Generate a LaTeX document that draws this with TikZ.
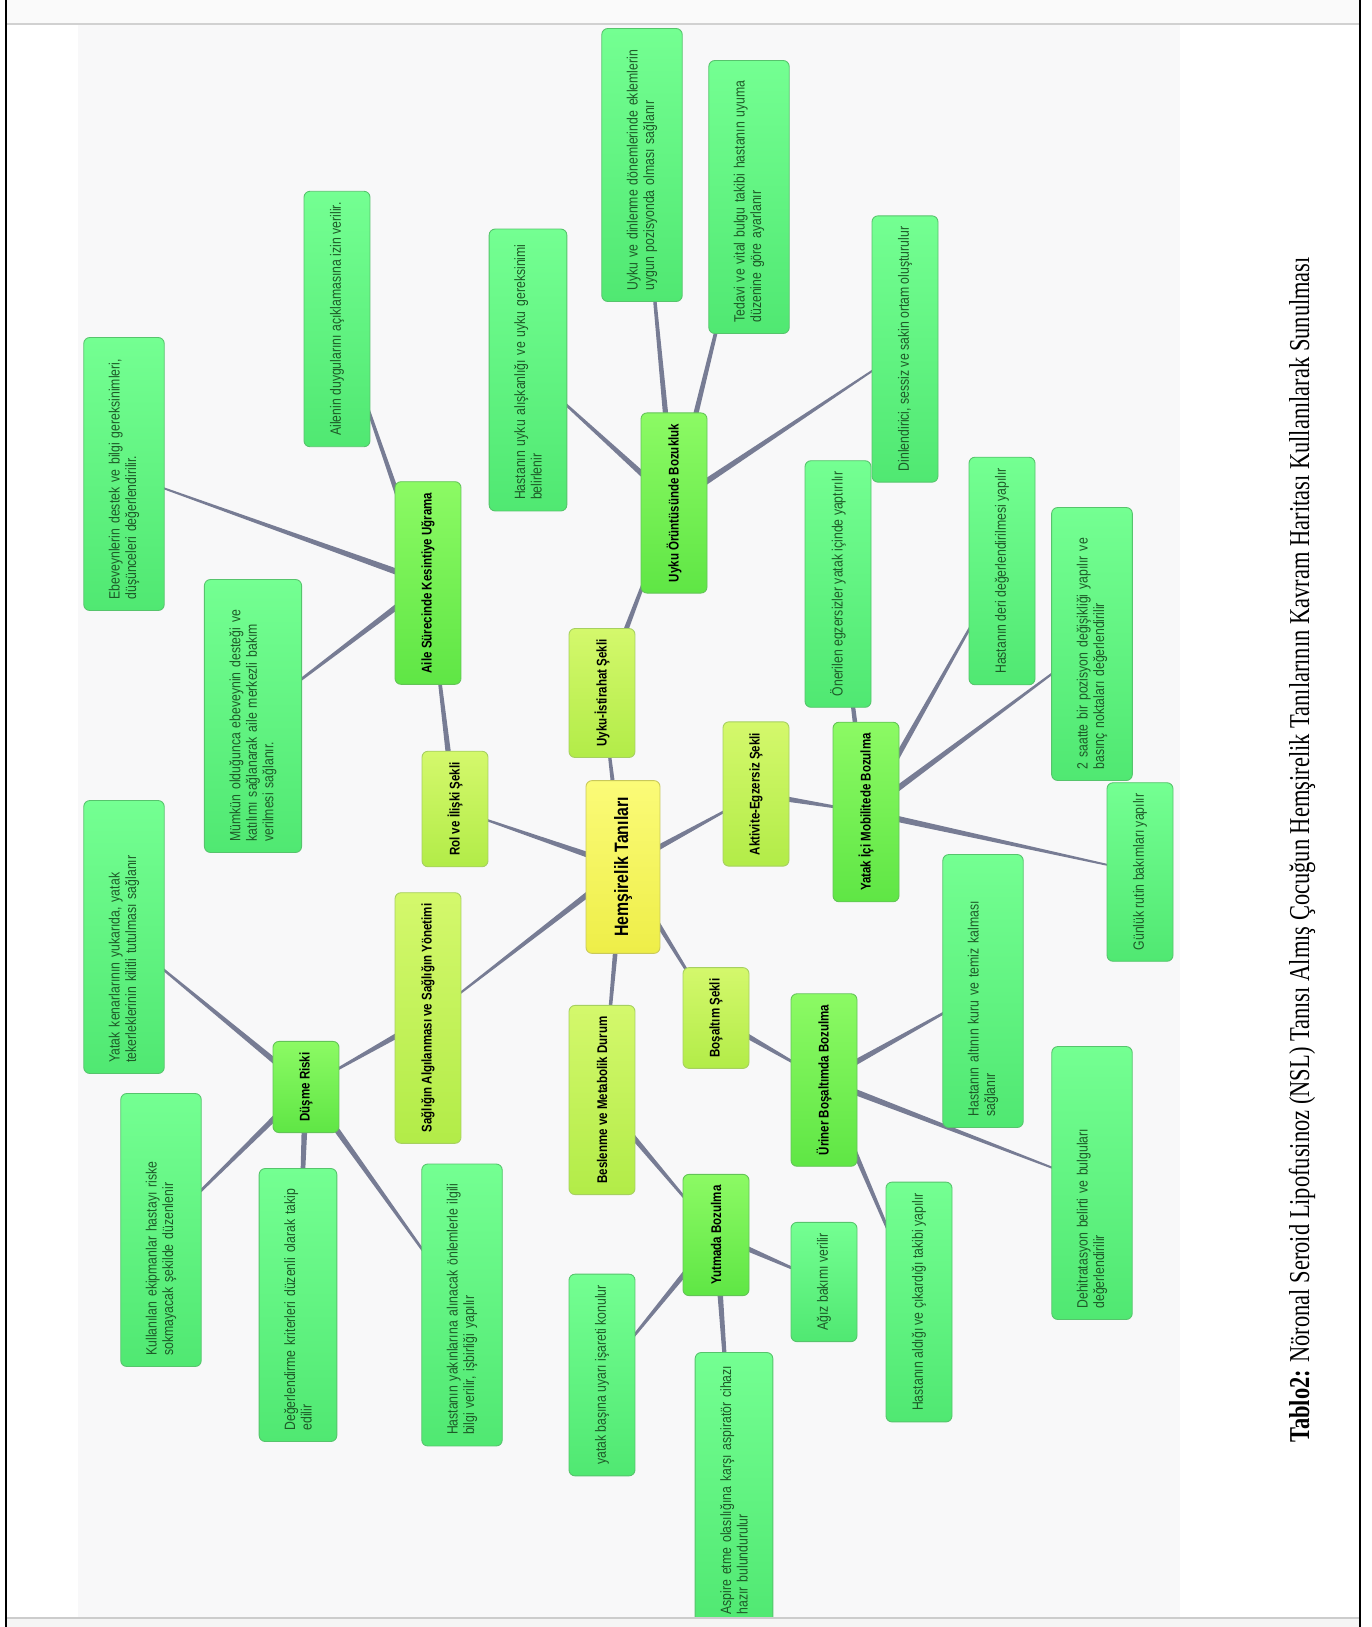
\documentclass[tikz,border=0pt]{standalone}
\usepackage{fontspec}
\setmainfont{Liberation Serif}
\newfontfamily\mapfont[FakeStretch=0.82]{Liberation Sans}
\newfontfamily\capfont[FakeStretch=0.78]{Liberation Serif}
\usetikzlibrary{calc,backgrounds}

\definecolor{linkgray}{HTML}{777C94}
\definecolor{mapbg}{HTML}{F8F8F9}
\definecolor{hubA}{HTML}{FBFB78}
\definecolor{hubB}{HTML}{EEEE48}
\definecolor{hubedge}{HTML}{C9C95A}
\definecolor{catA}{HTML}{D4F86C}
\definecolor{catB}{HTML}{B2EC48}
\definecolor{catedge}{HTML}{A6D060}
\definecolor{diagA}{HTML}{8CFA64}
\definecolor{diagB}{HTML}{5FE645}
\definecolor{diagedge}{HTML}{62C456}
\definecolor{leafA}{HTML}{74FF92}
\definecolor{leafB}{HTML}{50E872}
\definecolor{leafedge}{HTML}{56C46C}
\definecolor{leaftext}{HTML}{1E5A28}

% tapered connector, thick at the parent
\newcommand{\branch}[2]{%
  \fill[linkgray] ($(#1)!1.9pt!90:(#2)$) -- ($(#2)!0.35pt!-90:(#1)$)
    -- ($(#2)!0.35pt!90:(#1)$) -- ($(#1)!1.9pt!-90:(#2)$) -- cycle;}

\hyphenpenalty=10000

\begin{document}
\begin{tikzpicture}[x=0.02cm,y=-0.02cm]

  \tikzstyle{box}=[rectangle,rounded corners=0.12cm,rotate=90,line width=0.5pt]
  \tikzstyle{hub}=[box,draw=hubedge,top color=hubA,bottom color=hubB,
                   font=\mapfont\bfseries\fontsize{11}{13}\selectfont,
                   inner xsep=0.33cm,minimum height=1.48cm]
  \tikzstyle{category}=[box,draw=catedge,top color=catA,bottom color=catB,
                   font=\mapfont\bfseries\fontsize{8}{9.5}\selectfont,
                   inner xsep=0.22cm,minimum height=1.32cm]
  \tikzstyle{diagnosis}=[category,draw=diagedge,top color=diagA,bottom color=diagB]
  \tikzstyle{leaf}=[box,draw=leafedge,top color=leafA,bottom color=leafB,
                   text=leaftext,font=\mapfont\fontsize{8.5}{9.4}\selectfont,
                   align=left,inner xsep=0.22cm,inner ysep=0.5cm,minimum height=1.32cm]
  \tikzstyle{leafw}=[leaf,text width=5.02cm]

  \useasboundingbox (0,0) rectangle (1372,1627);

  % centre and patterns
  \node[hub] (hub) at (623,867) {Hemşirelik Tanıları};
  \node[category] (uykuist)  at (602,693)  {Uyku-İstirahat Şekli};
  \node[category] (rol)      at (455,809)  {Rol ve İlişki Şekli};
  \node[category] (aktivite) at (756,794)  {Aktivite-Egzersiz Şekli};
  \node[category] (saglik)   at (428,1018) {Sağlığın Algılanması ve Sağlığın Yönetimi};
  \node[category] (beslenme) at (602,1100) {Beslenme ve Metabolik Durum};
  \node[category] (bosaltim) at (716,1018) {Boşaltım Şekli};

  % diagnoses
  \node[diagnosis] (aile)     at (428,583)  {Aile Sürecinde Kesintiye Uğrama};
  \node[diagnosis] (uykuoru)  at (674,503)  {Uyku Örüntüsünde Bozukluk};
  \node[diagnosis] (yatakici) at (866,812)  {Yatak İçi Mobilitede Bozulma};
  \node[diagnosis] (dusme)    at (306,1087) {Düşme Riski};
  \node[diagnosis] (yutma)    at (716,1235) {Yutmada Bozulma};
  \node[diagnosis] (uriner)   at (824,1080) {Üriner Boşaltımda Bozulma};

  % interventions
  \node[leafw] (ebeveyn) at (124,474) {Ebeveynlerin destek ve bilgi gereksinimleri,\\düşünceleri değerlendirilir.};
  \node[leaf]  (ailenin) at (337,319) {Ailenin duygularını açıklamasına izin verilir.};
  \node[leafw] (mumkun)  at (253,716) {Mümkün olduğunca ebeveynin desteği ve\\katılımı sağlanarak aile merkezli bakım\\verilmesi sağlanır.};

  \node[leafw,text width=5.2cm] (aliskanlik) at (528,370) {Hastanın uyku alışkanlığı ve uyku gereksinimi\\belirlenir};
  \node[leafw] (eklem)  at (642,165) {Uyku ve dinlenme dönemlerinde eklemlerin\\uygun pozisyonda olması sağlanır};
  \node[leafw] (tedavi) at (749,197) {Tedavi ve vital bulgu takibi hastanın uyuma\\düzenine göre ayarlanır};
  \node[leaf]  (ortam)  at (905,349) {Dinlendirici, sessiz ve sakin ortam oluşturulur};

  \node[leaf]  (egzersiz) at (838,584)  {Önerilen egzersizler yatak içinde yaptırılır};
  \node[leaf]  (deri)     at (1002,571) {Hastanın deri değerlendirilmesi yapılır};
  \node[leafw] (pozisyon) at (1092,644) {2 saatte bir pozisyon değişikliği yapılır ve\\basınç noktaları değerlendirilir};
  \node[leaf]  (rutin)    at (1140,872) {Günlük rutin bakımları yapılır};

  \node[leafw] (kuru)     at (983,991)   {Hastanın altının kuru ve temiz kalması\\sağlanır};
  \node[leafw] (dehidrat) at (1092,1183) {Dehitratasyon belirti ve bulguları\\değerlendirilir};
  \node[leaf]  (aldigi)   at (919,1302)  {Hastanın aldığı ve çıkardığı takibi yapılır};

  \node[leaf]  (agiz)   at (824,1282) {Ağız bakımı verilir};
  \node[leafw] (aspire) at (734,1489) {Aspire etme olasılığına karşı aspiratör cihazı\\hazır bulundurulur};
  \node[leaf]  (uyari)  at (602,1375) {yatak başına uyarı işareti konulur};

  \node[leafw] (kenar)   at (124,937)  {Yatak kenarlarının yukarıda, yatak\\tekerleklerinin kilitli tutulması sağlanır};
  \node[leafw] (ekipman) at (161,1230) {Kullanılan ekipmanlar hastayı riske\\sokmayacak şekilde düzenlenir};
  \node[leafw] (kriter)  at (298,1305) {Değerlendirme kriterleri düzenli olarak takip\\edilir};
  \node[leafw,text width=5.2cm] (yakin) at (462,1305) {Hastanın yakınlarına alınacak önlemlerle ilgili\\bilgi verilir, işbirliği yapılır};

  \node[rotate=90,font=\capfont\fontsize{16.4}{19}\selectfont] (caption) at (1302,850)
    {\textbf{Tablo2:} Nöronal Seroid Lipofusinoz (NSL) Tanısı Almış Çocuğun Hemşirelik Tanılarının Kavram Haritası Kullanılarak Sunulması};

  \begin{pgfonlayer}{background}
    \fill[mapbg] (78,25) rectangle (1180,1617);
    \foreach \c in {uykuist,rol,aktivite,saglik,beslenme,bosaltim}
      \branch{hub}{\c};
    \branch{rol}{aile}
    \branch{uykuist}{uykuoru}
    \branch{aktivite}{yatakici}
    \branch{saglik}{dusme}
    \branch{beslenme}{yutma}
    \branch{bosaltim}{uriner}
    \foreach \c in {ebeveyn,ailenin,mumkun} \branch{aile}{\c};
    \foreach \c in {aliskanlik,eklem,tedavi,ortam} \branch{uykuoru}{\c};
    \foreach \c in {egzersiz,deri,pozisyon,rutin} \branch{yatakici}{\c};
    \foreach \c in {kuru,dehidrat,aldigi} \branch{uriner}{\c};
    \foreach \c in {agiz,aspire,uyari} \branch{yutma}{\c};
    \foreach \c in {kenar,ekipman,kriter,yakin} \branch{dusme}{\c};
  \end{pgfonlayer}

  % page frame
  \fill[black!2] (7,0) rectangle (1359,24);
  \draw[black!18,line width=1pt] (7,24) -- (1359,24);
  \fill[black!4] (7,1618) rectangle (1359,1627);
  \draw[black!20,line width=1pt] (7,1618) -- (1359,1618);
  \draw[line width=1.2pt] (6,0) -- (6,1627);
  \draw[line width=1.2pt] (1360,0) -- (1360,1627);
\end{tikzpicture}
\end{document}
